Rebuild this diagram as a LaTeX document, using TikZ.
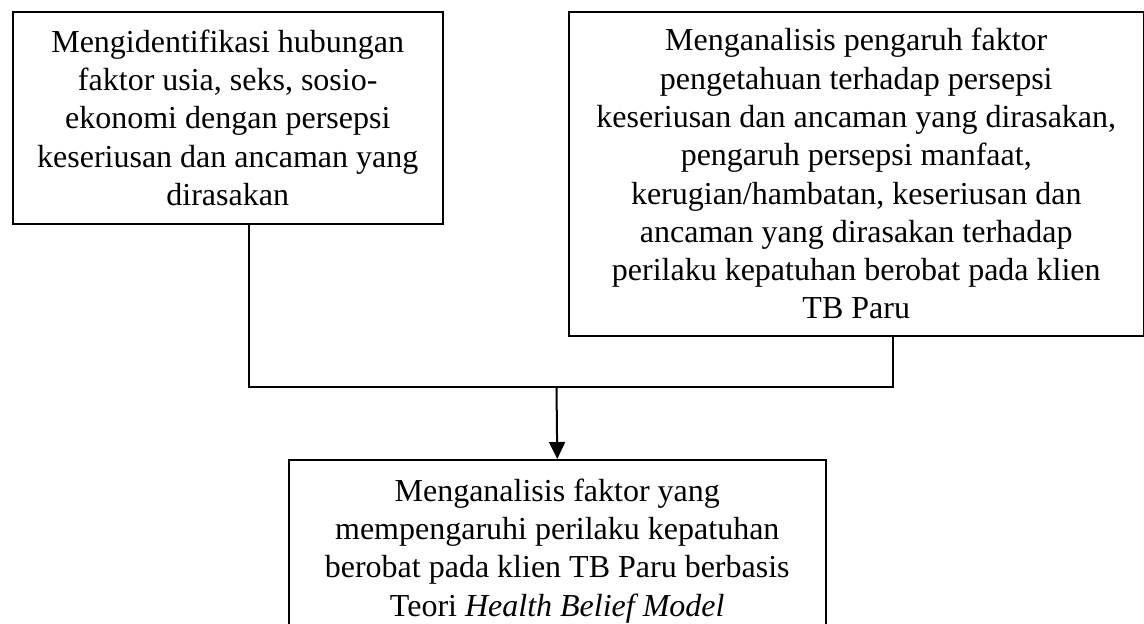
\documentclass[tikz,border=0pt]{standalone}
\usepackage{fontspec}
\setmainfont{Liberation Serif}
\usetikzlibrary{positioning,arrows.meta}

\begin{document}
\begin{tikzpicture}[x=0.5pt,y=-0.5pt,
		>={Triangle[width=8pt,length=8.5pt]},
		kotak/.style={rectangle,draw,line width=0.75pt,align=center,
			anchor=north west,inner sep=0pt,
			font=\fontsize{16}{19.15}\selectfont},
		garis/.style={line width=1pt}]
%% Bingkai gambar
   \useasboundingbox (0,0) rectangle (1144,623);
   \clip (0,0) rectangle (1144,623);
%% Kotak tujuan
   \node [kotak,minimum width=215pt,minimum height=106pt] (kiri) at (12,11)
	{Mengidentifikasi hubungan\\faktor usia, seks, sosio-\\ekonomi dengan persepsi\\keseriusan dan ancaman yang\\dirasakan};
   \node [kotak,minimum width=287.5pt,minimum height=162pt] (kanan) at (568,11)
	{Menganalisis pengaruh faktor\\pengetahuan terhadap persepsi\\keseriusan dan ancaman yang dirasakan,\\pengaruh persepsi manfaat,\\kerugian/hambatan, keseriusan dan\\ancaman yang dirasakan terhadap\\perilaku kepatuhan berobat pada klien\\TB Paru};
   \node [kotak,minimum width=268.5pt,minimum height=91pt] (hasil) at (288,459)
	{Menganalisis faktor yang\\mempengaruhi perilaku kepatuhan\\berobat pada klien TB Paru berbasis\\Teori \textit{Health Belief Model}};
%% Garis penghubung
   \coordinate (jL) at (249,387);
   \coordinate (jM) at (556.5,387);
   \coordinate (jR) at (893,387);
   \draw [garis] (kiri.south -| jL) -- (jL) -- (jR) -- (kanan.south -| jR);
   \draw [garis,->] (jM) -- (hasil.north);
\end{tikzpicture}
\end{document}
